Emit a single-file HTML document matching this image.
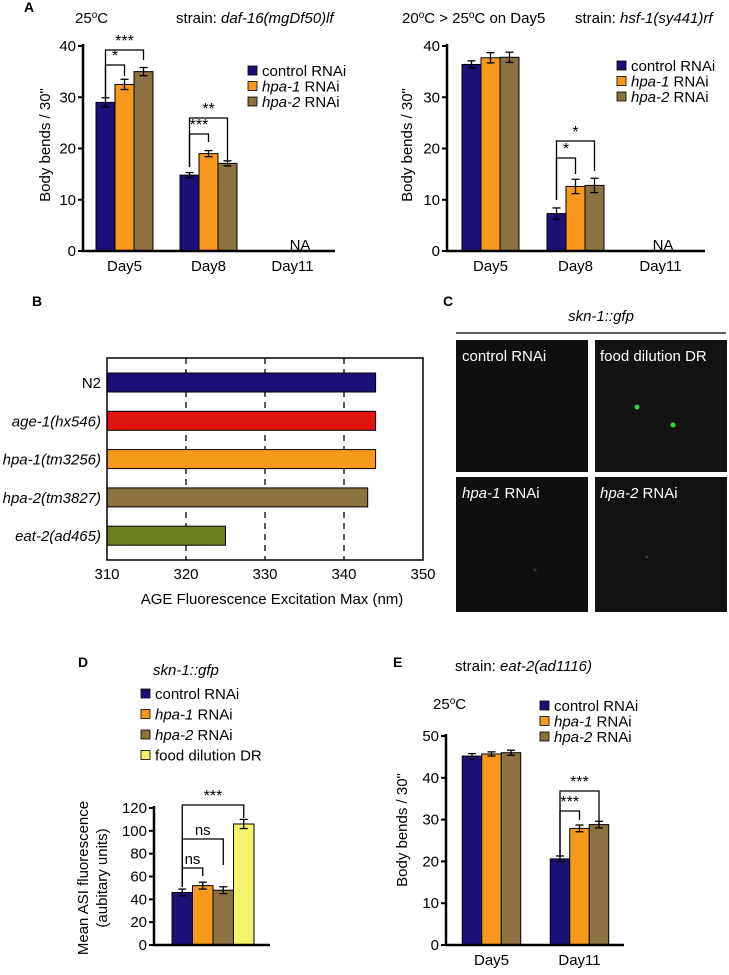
<!DOCTYPE html>
<html><head><meta charset="utf-8"><style>
body{margin:0;background:#fff}
svg{display:block;font-family:"Liberation Sans",Arial,sans-serif}
</style></head><body>
<svg id="fig" width="729" height="975" viewBox="0 0 729 975">
<g font-weight="bold" font-size="14">
<text x="24" y="12">A</text>
<text x="32" y="306">B</text>
<text x="443" y="306">C</text>
<text x="78" y="667">D</text>
<text x="393" y="667">E</text>
</g>
<g font-size="15">
<text x="75" y="23">25<tspan font-size="10" dy="-5">o</tspan><tspan dy="5">C</tspan></text>
<text x="176" y="23">strain: <tspan font-style="italic">daf-16(mgDf50)lf</tspan></text>
<text x="402" y="23">20<tspan font-size="10" dy="-5">o</tspan><tspan dy="5">C &gt; 25</tspan><tspan font-size="10" dy="-5">o</tspan><tspan dy="5">C on Day5</tspan></text>
<text x="575" y="23">strain: <tspan font-style="italic">hsf-1(sy441)rf</tspan></text>
<text x="455" y="671">strain: <tspan font-style="italic">eat-2(ad1116)</tspan></text>
<text x="433" y="709">25<tspan font-size="10" dy="-5">o</tspan><tspan dy="5">C</tspan></text>
<text x="153" y="675" font-style="italic">skn-1::gfp</text>
</g>
<g>
<text x="601" y="321" font-size="15" font-style="italic" text-anchor="middle">skn-1::gfp</text>
<line x1="456" y1="333" x2="726" y2="333" stroke="#000" stroke-width="1.3"/>
<rect x="456" y="340" width="132" height="132" fill="#101010"/>
<rect x="595" y="340" width="132" height="132" fill="#121312"/>
<rect x="456" y="477" width="132" height="135" fill="#101010"/>
<rect x="595" y="477" width="132" height="135" fill="#111111"/>
<circle cx="637" cy="407" r="2.5" fill="#2bd43a"/><circle cx="673" cy="425" r="2.5" fill="#2bd43a"/>
<circle cx="535" cy="570" r="1.5" fill="#1d4a22"/><circle cx="647" cy="557" r="1.5" fill="#1d4a22"/>
<g fill="#fff" font-size="15">
<text x="462" y="361">control RNAi</text>
<text x="600" y="361">food dilution DR</text>
<text x="462" y="498"><tspan font-style="italic">hpa-1</tspan> RNAi</text>
<text x="600" y="498"><tspan font-style="italic">hpa-2</tspan> RNAi</text>
</g>
</g>
</svg>
<script>
const seriesNames = ["control RNAi","hpa-1 RNAi","hpa-2 RNAi"];
const a1Days = ["Day5","Day8","Day11"];
const a1Values = [[29,32.5,35],[14.8,19,17.1]];
const a1Errors = [[0.9,1.0,0.8],[0.5,0.6,0.5]];
const a2Days = ["Day5","Day8","Day11"];
const a2Values = [[36.4,37.7,37.8],[7.3,12.6,12.8]];
const a2Errors = [[0.7,1.0,1.0],[1.1,1.4,1.4]];
const aTicks = [0,10,20,30,40];
const bCategories = ["N2","age-1(hx546)","hpa-1(tm3256)","hpa-2(tm3827)","eat-2(ad465)"];
const bValues = [344,344,344,343,325];
const bTicks = [310,320,330,340,350];
const dCategories = ["control RNAi","hpa-1 RNAi","hpa-2 RNAi","food dilution DR"];
const dValues = [46,52,48,106];
const dErrors = [3,3,3,4];
const dTicks = [0,20,40,60,80,100,120];
const eDays = ["Day5","Day11"];
const eValues = [[45.2,45.7,46.0],[20.6,27.9,28.8]];
const eErrors = [[0.6,0.5,0.6],[0.7,0.8,0.8]];
const eTicks = [0,10,20,30,40,50];
const colors = ["#1b1078","#f7991c","#8c7240","#f5f56c"];

const FS=15;
const NS="http://www.w3.org/2000/svg";
const svg=document.getElementById('fig');
function el(tag,attrs,parent,txt){const e=document.createElementNS(NS,tag);for(const k in attrs)e.setAttribute(k,attrs[k]);if(txt!==undefined)e.textContent=txt;(parent||svg).appendChild(e);return e;}

function yAxis(g,ax,y0,yEnd,ticks,scale){
  const l=el('line',{x1:ax,y1:y0,x2:ax,y2:yEnd,stroke:'#000','stroke-width':2.5},g);
  
  
  ticks.forEach(t=>{const y=scale(t);
    el('line',{x1:ax-5,y1:y,x2:ax,y2:y,stroke:'#000','stroke-width':2},g);
    const tx=el('text',{x:ax-7,y:y+5,'text-anchor':'end','font-size':FS},g,String(t));
    
    
  });
}
function bar(g,x,w,y,h,fill,err,scale,v,name){
  const r=el('rect',{x:x,y:scale(v),width:w,height:scale(0)-scale(v),fill:fill,stroke:'#000','stroke-width':1},g);
  
  
  if(err){const cx=x+w/2,t=scale(v+err),b=scale(v-err);
    el('line',{x1:cx,y1:t,x2:cx,y2:b,stroke:'#000','stroke-width':1.3},g);
    el('line',{x1:cx-4,y1:t,x2:cx+4,y2:t,stroke:'#000','stroke-width':1.3},g);
    el('line',{x1:cx-4,y1:b,x2:cx+4,y2:b,stroke:'#000','stroke-width':1.3},g);}
}
function bracket(g,x1,x2,yTop,yL,yR,label){
  el('polyline',{points:`${x1},${yL} ${x1},${yTop} ${x2},${yTop} ${x2},${yR}`,fill:'none',stroke:'#000','stroke-width':1.3},g);
  const t=el('text',{x:(x1+x2)/2,y:yTop-4,'text-anchor':'middle','font-size':label==='ns'?15:16},g,label);
  
  
}
function legend(g,x,y,dy,names,fs){
  names.forEach((n,i)=>{
    const s=el('rect',{x:x,y:y+i*dy-10,width:9,height:9,fill:colors[i],stroke:'#000','stroke-width':0.8},g);
    
    
    const t=el('text',{x:x+14,y:y+i*dy,'font-size':fs},g);
    
    
    const m=n.match(/^(hpa-\d)( RNAi)$/);
    if(m){el('tspan',{'font-style':'italic'},t,m[1]);el('tspan',{},t,m[2]);}else t.textContent=n;
  });
}
function groupedChart(name,ax,axEnd,y0,yTop,maxV,ticks,days,vals,errs,first,spacing,bw,ytitle,ytx,ytcy){
  const g=el('g',{});
  
  
  const scale=v=>y0-(v/maxV)*(y0-yTop);
  vals.forEach((grp,i)=>{const c=ax+first+i*spacing;
    grp.forEach((v,j)=>bar(g,c-1.5*bw+j*bw,bw,0,0,colors[j],errs[i][j],scale,v,'bar-'+days[i].toLowerCase()+'-'+j));});
  yAxis(g,ax,y0+1,yTop-2,ticks,scale);
  el('line',{x1:ax-1,y1:y0,x2:axEnd,y2:y0,stroke:'#000','stroke-width':2.5},g);
  days.forEach((d,i)=>{const t=el('text',{x:ax+first+i*spacing,y:y0+20,'text-anchor':'middle','font-size':FS},g,d);
    
    });
  const yt=el('text',{x:ytx,y:ytcy,'text-anchor':'middle','font-size':FS,transform:`rotate(-90 ${ytx} ${ytcy})`},g,ytitle);
  
  
  return {g,scale,cx:(i,j)=>ax+first+i*spacing-bw+j*bw};
}
let A1=groupedChart('chart-a-daf16',83,335,251,46,40,aTicks,a1Days,a1Values,a1Errors,41.5,84,19,'Body bends / 30"',50,145);
el('text',{x:300,y:250,'text-anchor':'middle','font-size':FS},A1.g,'NA');
legend(A1.g,248,76,15.5,seriesNames,FS);
bracket(A1.g,A1.cx(0,0),A1.cx(0,2),50,98,60,'***');
bracket(A1.g,A1.cx(0,0),A1.cx(0,1),65,98,76,'*');
bracket(A1.g,A1.cx(1,0),A1.cx(1,2),118,167,160,'**');
bracket(A1.g,A1.cx(1,0),A1.cx(1,1),134,167,142,'***');
let A2=groupedChart('chart-a-hsf1',447,705,251,46,40,aTicks,a2Days,a2Values,a2Errors,43.5,85,19,'Body bends / 30"',412,145);
el('text',{x:663,y:250,'text-anchor':'middle','font-size':FS},A2.g,'NA');
legend(A2.g,617,71,15.5,seriesNames,FS);
bracket(A2.g,A2.cx(1,0),A2.cx(1,2),141,200,171,'*');
bracket(A2.g,A2.cx(1,0),A2.cx(1,1),158,200,174,'*');
let E=groupedChart('chart-e-eat2',446,624,945,736,50,eTicks,eDays,eValues,eErrors,45.5,88,19.5,'Body bends / 30"',407,830);
legend(E.g,540,711,15.5,seriesNames,FS);
bracket(E.g,E.cx(1,0),E.cx(1,2),791,857,825,'***');
bracket(E.g,E.cx(1,0),E.cx(1,1),811,857,820,'***');
(function(){
  const g=el('g',{});
  
  
  const ax=154,y0=945,yTop=808;
  const scale=v=>y0-(v/120)*(y0-yTop);
  const bw=20.5,x0=172;
  dValues.forEach((v,i)=>bar(g,x0+i*bw,bw,0,0,colors[i],dErrors[i],scale,v,'bar-'+i));
  yAxis(g,ax,y0+1,yTop-2,dTicks,scale);
  el('line',{x1:ax-1,y1:y0,x2:270,y2:y0,stroke:'#000','stroke-width':2.5},g);
  const t1=el('text',{x:88,y:878,'text-anchor':'middle','font-size':FS,transform:'rotate(-90 88 878)'},g,'Mean ASI fluorescence');
  
  
  const t2=el('text',{x:107,y:878,'text-anchor':'middle','font-size':FS,transform:'rotate(-90 107 878)'},g,'(aubitary units)');
  
  
  const cx=i=>x0+i*bw+bw/2;
  bracket(g,cx(0),cx(3),805,887,818,'***');
  bracket(g,cx(0),cx(2),839,887,865,'ns');
  bracket(g,cx(0),cx(1),868,887,876,'ns');
  legend(g,141,699,20.5,dCategories,FS);
})();
(function(){
  const g=el('g',{});
  
  
  const L=107,R=423,T=358,B=560;
  const xs=v=>L+(v-310)/(350-310)*(R-L);
  const bColors=["#1b1078","#e0160e","#f7991c","#8c7240","#6b7f1e"];
  bTicks.slice(1,4).forEach(t=>el('line',{x1:xs(t),y1:T,x2:xs(t),y2:B,stroke:'#000','stroke-width':1.3,'stroke-dasharray':'6,5'},g));
  bValues.forEach((v,i)=>{const y=373+i*38.3;
    const r=el('rect',{x:L,y:y,width:xs(v)-L,height:19,fill:bColors[i],stroke:'#000','stroke-width':1},g);
    
    
    const t=el('text',{x:L-6,y:y+15,'text-anchor':'end','font-size':FS,'font-style':i?'italic':'normal'},g,bCategories[i]);
    
    });
  const fr=el('rect',{x:L,y:T,width:R-L,height:B-T,fill:'none',stroke:'#000','stroke-width':1.5},g);
  
  
  bTicks.forEach(t=>{const tx=el('text',{x:xs(t),y:579,'text-anchor':'middle','font-size':FS},g,String(t));
    
    });
  const at=el('text',{x:272,y:604,'text-anchor':'middle','font-size':FS},g,'AGE Fluorescence Excitation Max (nm)');
  
  
})();
</script>
</body></html>
